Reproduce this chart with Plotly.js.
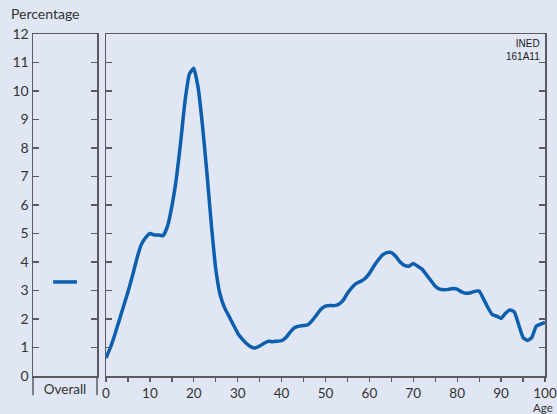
<!DOCTYPE html>
<html>
<head>
<meta charset="utf-8">
<script src="https://cdn.plot.ly/plotly-3.0.1.min.js"></script>
<style>html,body{margin:0;padding:0;background:#e0e6f3;}#chart{width:557px;height:414px;}</style>
</head>
<body>
<div id="chart"></div>
<script>
// Data
var overallLabel = ["Overall"];
var overallValue = [3.3];
var ages = [];
for (var a = 0; a <= 100; a++) ages.push(a);
var percentages = [
  0.63, 1.0, 1.45, 1.95, 2.45, 2.95, 3.5, 4.1, 4.6, 4.85,
  5.0, 4.95, 4.95, 4.92, 5.25, 5.95, 6.9, 8.2, 9.65, 10.6,
  10.8, 10.1, 8.75, 7.1, 5.3, 3.75, 2.85, 2.4, 2.1, 1.8,
  1.5, 1.3, 1.14, 1.02, 0.98, 1.05, 1.15, 1.22, 1.2, 1.22,
  1.24, 1.35, 1.55, 1.7, 1.75, 1.77, 1.8, 1.95, 2.15, 2.35,
  2.45, 2.47, 2.47, 2.52, 2.65, 2.9, 3.1, 3.25, 3.32, 3.42,
  3.6, 3.85, 4.07, 4.25, 4.33, 4.33, 4.2, 4.0, 3.88, 3.85,
  3.95, 3.85, 3.75, 3.55, 3.35, 3.15, 3.05, 3.03, 3.04, 3.07,
  3.05, 2.95, 2.9, 2.92, 2.97, 2.98, 2.7, 2.4, 2.15, 2.1,
  2.02, 2.2, 2.32, 2.25, 1.8, 1.35, 1.25, 1.35, 1.75, 1.82,
  1.88
];
var xTickVals = [0,5,10,15,20,25,30,35,40,45,50,55,60,65,70,75,80,85,90,95,100];
var xTickText = ["0","","10","","20","","30","","40","","50","","60","","70","","80","","90","","100"];
var yTickVals = [0,1,2,3,4,5,6,7,8,9,10,11,12];

var BLUE = "#0b5fae";
var AX = "#5a5a60";
var FONT = "Lato, 'Noto Sans', sans-serif";

var traces = [
  {
    x: overallLabel, y: overallValue, xaxis: "x", yaxis: "y",
    mode: "markers", type: "scatter", hoverinfo: "skip",
    marker: {symbol: "line-ew-open", size: 17, color: BLUE, line: {color: BLUE, width: 3.5}}
  },
  {
    x: ages, y: percentages, xaxis: "x2", yaxis: "y2",
    mode: "lines", type: "scatter", hoverinfo: "skip",
    line: {color: BLUE, width: 3.5, shape: "spline", smoothing: 0.4}
  }
];

var layout = {
  width: 557, height: 414,
  margin: {l: 33, r: 12, t: 34, b: 38},
  paper_bgcolor: "#e0e6f3", plot_bgcolor: "#e0e6f3",
  showlegend: false,
  font: {family: FONT, color: "#333", size: 14},
  xaxis: {
    domain: [0, 0.125], type: "category", showline: true, linecolor: AX, linewidth: 1.5,
    mirror: true, ticks: "", showgrid: false, zeroline: false, fixedrange: true,
    tickfont: {family: FONT, size: 13.5, color: "#333"}
  },
  yaxis: {
    anchor: "x", range: [0, 12], tickvals: yTickVals, showline: true, linecolor: AX, linewidth: 1.5,
    mirror: "ticks", ticks: "inside", ticklen: 6, tickwidth: 1.3, tickcolor: AX,
    showgrid: false, zeroline: false, tickfont: {family: FONT, size: 14, color: "#333"}
  },
  xaxis2: {
    domain: [0.1426, 1], anchor: "y2", range: [0, 100], tickvals: xTickVals, ticktext: xTickText,
    showline: true, linecolor: AX, linewidth: 1.5, mirror: true, ticklabeloverflow: "allow",
    ticks: "outside", ticklen: 4, tickwidth: 1.3, tickcolor: AX,
    showgrid: false, zeroline: false, tickfont: {family: FONT, size: 13.5, color: "#333"}
  },
  yaxis2: {
    anchor: "x2", range: [0, 12], tickvals: yTickVals, showticklabels: false,
    showline: true, linecolor: AX, linewidth: 1.5, mirror: "ticks",
    ticks: "inside", ticklen: 6, tickwidth: 1.3, tickcolor: AX,
    showgrid: false, zeroline: false
  },
  shapes: [
    {type: "line", xref: "paper", yref: "paper", x0: 0, x1: 0, y0: 0, y1: -0.056, line: {color: AX, width: 1.5}},
    {type: "line", xref: "paper", yref: "paper", x0: 0.125, x1: 0.125, y0: 0, y1: -0.056, line: {color: AX, width: 1.5}}
  ],
  annotations: [
    {text: "Percentage", xref: "paper", yref: "paper", x: -0.047, y: 1.03, xanchor: "left", yanchor: "bottom",
     showarrow: false, font: {family: FONT, size: 14, color: "#333"}},
    {text: "Age", xref: "paper", yref: "paper", x: 1.02, y: -0.067, xanchor: "right", yanchor: "top",
     showarrow: false, font: {family: FONT, size: 11.5, color: "#333"}},
    {text: "INED<br>161A11", xref: "paper", yref: "paper", x: 0.994, y: 0.995, xanchor: "right", yanchor: "top",
     align: "right", showarrow: false, font: {family: "'Liberation Sans Narrow', 'Liberation Sans', Arial, sans-serif", size: 10, color: "#222"}}
  ]
};

Plotly.newPlot("chart", traces, layout, {displayModeBar: false, staticPlot: true});
</script>
</body>
</html>
